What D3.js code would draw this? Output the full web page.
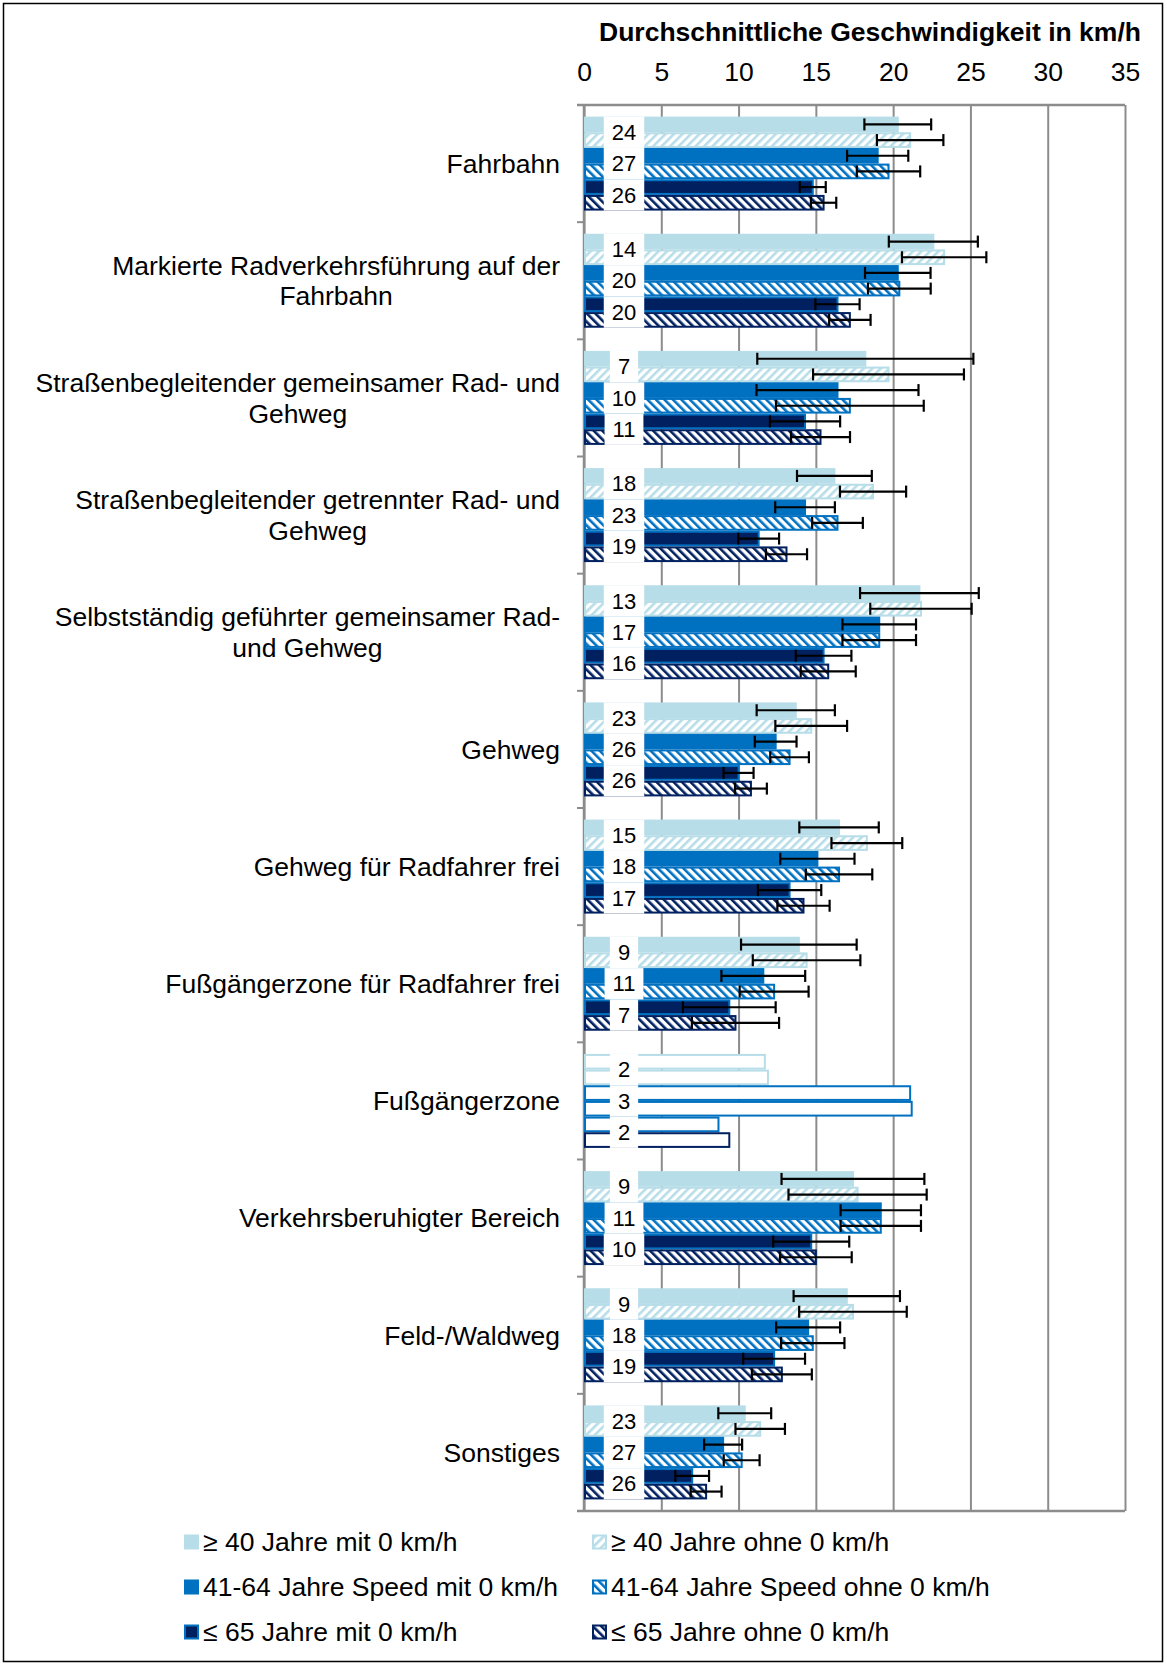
<!DOCTYPE html>
<html>
<head>
<meta charset="utf-8">
<script src="https://cdn.jsdelivr.net/npm/d3@7"></script>
<style>
  body { margin: 0; background: #fff; }
  svg text { font-family: "Liberation Sans", Arial, sans-serif; fill: #000; }
</style>
</head>
<body>
<svg id="canvas"></svg>
<script>
// Kategorien (Zeilenumbruch mit \n)
let categories = [
    "Fahrbahn",
    "Markierte Radverkehrsführung auf der\nFahrbahn",
    "Straßenbegleitender gemeinsamer Rad- und\nGehweg",
    "Straßenbegleitender getrennter Rad- und\nGehweg",
    "Selbstständig geführter gemeinsamer Rad-\nund Gehweg",
    "Gehweg",
    "Gehweg für Radfahrer frei",
    "Fußgängerzone für Radfahrer frei",
    "Fußgängerzone",
    "Verkehrsberuhigter Bereich",
    "Feld-/Waldweg",
    "Sonstiges"
];

let seriesNames = [
    "≥ 40 Jahre mit 0 km/h",
    "≥ 40 Jahre ohne 0 km/h",
    "41-64 Jahre Speed mit 0 km/h",
    "41-64 Jahre Speed ohne 0 km/h",
    "≤ 65 Jahre mit 0 km/h",
    "≤ 65 Jahre ohne 0 km/h"
];

// Mittelwerte km/h
let lightMit  = [20.3, 22.6, 18.2, 16.2, 21.7, 13.7, 16.5, 13.9, 11.7, 17.4, 17.0, 10.4];
let lightOhne = [21.1, 23.3, 19.7, 18.7, 21.8, 14.7, 18.3, 14.4, 11.9, 17.7, 17.4, 11.4];
let midMit    = [19.0, 20.3, 16.4, 14.3, 19.1, 12.4, 15.1, 11.6, 21.1, 19.2, 14.5, 9.0];
let midOhne   = [19.7, 20.4, 17.2, 16.4, 19.1, 13.3, 16.5, 12.3, 21.2, 19.2, 14.8, 10.2];
let darkMit   = [14.8, 16.4, 14.3, 11.3, 15.5, 10.0, 13.3, 9.4, 8.7, 14.7, 12.3, 7.0];
let darkOhne  = [15.5, 17.2, 15.3, 13.1, 15.8, 10.8, 14.2, 9.8, 9.4, 15.0, 12.8, 7.9];

// Fehlerbalken (+/-), Fußgängerzone ohne
let lightMitErr  = [2.16, 2.88, 6.99, 2.42, 3.84, 2.53, 2.57, 3.74, null, 4.62, 3.44, 1.71];
let lightOhneErr = [2.15, 2.73, 4.88, 2.14, 3.28, 2.32, 2.29, 3.48, null, 4.47, 3.48, 1.60];
let midMitErr    = [1.98, 2.12, 5.24, 1.93, 2.38, 1.35, 2.40, 2.71, null, 2.60, 2.07, 1.23];
let midOhneErr   = [2.05, 2.03, 4.78, 1.64, 2.38, 1.25, 2.15, 2.23, null, 2.60, 2.05, 1.16];
let darkMitErr   = [0.84, 1.43, 2.27, 1.32, 1.80, 0.97, 2.05, 3.00, null, 2.46, 2.00, 1.09];
let darkOhneErr  = [0.82, 1.34, 1.91, 1.33, 1.78, 1.03, 1.69, 2.82, null, 2.32, 1.94, 1.00];

// Anzahl (n) je Altersgruppe
let countYoung = [24, 14, 7, 18, 13, 23, 15, 9, 2, 9, 9, 23];
let countMid   = [27, 20, 10, 23, 17, 26, 18, 11, 3, 11, 18, 27];
let countOld   = [26, 20, 11, 19, 16, 26, 17, 7, 2, 10, 19, 26];

let xTicks = [0, 5, 10, 15, 20, 25, 30, 35];

let title = "Durchschnittliche Geschwindigkeit in km/h";
let outlineOnly = "Fußgängerzone";

let light = "#b7dde8";
let mid = "#0070c0";
let dark = "#002060";

let width = 1167;
let height = 1665;
let plotLeft = 584, plotRight = 1125, plotTop = 105, plotBottom = 1511;
let fontSize = 26.5;
let labelSize = 22;

let series = [
    {name: seriesNames[0], values: lightMit,  err: lightMitErr,  fill: light, stroke: light},
    {name: seriesNames[1], values: lightOhne, err: lightOhneErr, fill: "url(#hatchLight)", stroke: light},
    {name: seriesNames[2], values: midMit,    err: midMitErr,    fill: mid, stroke: mid},
    {name: seriesNames[3], values: midOhne,   err: midOhneErr,   fill: "url(#hatchMid)", stroke: mid},
    {name: seriesNames[4], values: darkMit,   err: darkMitErr,   fill: dark, stroke: mid},
    {name: seriesNames[5], values: darkOhne,  err: darkOhneErr,  fill: "url(#hatchDark)", stroke: dark}
];
let counts = [countYoung, countMid, countOld];

let canvas = d3.select("#canvas")
canvas.attr("width", width)
canvas.attr("height", height)

let xScale = d3.scaleLinear().domain([0, 35]).range([plotLeft, plotRight])
let y0 = d3.scaleBand().domain(d3.range(categories.length)).range([plotTop, plotBottom])
let y1 = d3.scaleBand().domain(d3.range(series.length))
            .range([0, y0.bandwidth()])
            .paddingInner(0)
            .paddingOuter(0.74)

let makePatterns = () => {
    let defs = canvas.append("defs")
    let pats = [["hatchLight", light, 45], ["hatchMid", mid, -45], ["hatchDark", dark, -45]]
    pats.forEach(p => {
        let pat = defs.append("pattern")
            .attr("id", p[0])
            .attr("patternUnits", "userSpaceOnUse")
            .attr("width", 6)
            .attr("height", 6)
            .attr("patternTransform", "rotate(" + p[2] + ")")
        pat.append("rect").attr("width", 6).attr("height", 6).attr("fill", "#fff")
        pat.append("rect").attr("width", 2.6).attr("height", 6).attr("fill", p[1])
    })
}

let drawFrame = () => {
    canvas.append("rect")
          .attr("x", 3.5).attr("y", 3.5)
          .attr("width", 1159).attr("height", 1658)
          .attr("fill", "none")
          .attr("stroke", "#000")
          .attr("stroke-width", 1.5)

    canvas.append("text")
          .attr("x", 870)
          .attr("y", 41)
          .attr("text-anchor", "middle")
          .style("font-size", fontSize + "px")
          .style("font-weight", "bold")
          .text(title)
}

let drawAxes = () => {
    let xAxis = d3.axisTop(xScale)
                  .tickValues(xTicks)
                  .tickSize(-(plotBottom - plotTop))
                  .tickPadding(24)

    let g = canvas.append("g")
          .attr("transform", "translate(0," + plotTop + ")")
          .call(xAxis)
    g.select(".domain").remove()
    g.selectAll(".tick line").attr("stroke", "#8c8c8c").attr("stroke-width", 2)
    g.selectAll(".tick text")
     .attr("fill", "#000")
     .style("font-size", fontSize + "px")
     .style("font-family", "'Liberation Sans', Arial, sans-serif")

    // Rahmenlinien oben / unten / links
    canvas.append("line").attr("x1", plotLeft - 7).attr("x2", plotRight).attr("y1", plotTop).attr("y2", plotTop)
          .attr("stroke", "#8c8c8c").attr("stroke-width", 2.5)
    canvas.append("line").attr("x1", plotLeft - 7).attr("x2", plotRight).attr("y1", plotBottom).attr("y2", plotBottom)
          .attr("stroke", "#8c8c8c").attr("stroke-width", 2.5)
    canvas.append("line").attr("x1", plotLeft).attr("x2", plotLeft).attr("y1", plotTop).attr("y2", plotBottom)
          .attr("stroke", "#8c8c8c").attr("stroke-width", 2.5)

    // Kategorie-Teilstriche
    canvas.selectAll(".cattick")
          .data(d3.range(categories.length + 1))
          .enter()
          .append("line")
          .attr("class", "cattick")
          .attr("x1", plotLeft - 7).attr("x2", plotLeft)
          .attr("y1", i => plotTop + i * y0.step())
          .attr("y2", i => plotTop + i * y0.step())
          .attr("stroke", "#8c8c8c")
          .attr("stroke-width", 2)

    // Kategorie-Beschriftungen
    let labels = canvas.selectAll(".catlabel")
          .data(categories)
          .enter()
          .append("text")
          .attr("class", "catlabel")
          .attr("text-anchor", "middle")
          .style("font-size", fontSize + "px")

    labels.each(function(d, i) {
        let lines = d.split("\n")
        let t = d3.select(this)
        let cy = y0(i) + y0.bandwidth() / 2
        let lh = 30.8
        lines.forEach((ln, k) => {
            t.append("tspan")
             .attr("y", cy + (k - (lines.length - 1) / 2) * lh + fontSize * 0.35)
             .text(ln)
        })
        let maxW = 0
        t.selectAll("tspan").each(function() {
            maxW = Math.max(maxW, this.getComputedTextLength())
        })
        t.selectAll("tspan").attr("x", 560 - maxW / 2)
    })
}

let drawBars = () => {
    series.forEach((s, si) => {
        canvas.selectAll(".bar" + si)
              .data(s.values)
              .enter()
              .append("rect")
              .attr("class", "bar" + si)
              .attr("x", xScale(0) + 1)
              .attr("y", (d, i) => y0(i) + y1(si) + 1)
              .attr("width", d => xScale(d) - xScale(0) - 1)
              .attr("height", y1.bandwidth() - 2)
              .attr("fill", (d, i) => categories[i] === outlineOnly ? "#fff" : s.fill)
              .attr("stroke", s.stroke)
              .attr("stroke-width", 2)
    })
}

let drawCountLabels = () => {
    counts.forEach((arr, gi) => {
        arr.forEach((n, i) => {
            let yTop = y0(i) + y1(gi * 2)
            let h = y1.bandwidth() * 2
            let g = canvas.append("g")
            let box = g.append("rect").attr("fill", "#fff")
            let t = g.append("text")
                     .attr("x", 624)
                     .attr("y", yTop + h / 2 + labelSize * 0.35)
                     .attr("text-anchor", "middle")
                     .style("font-size", labelSize + "px")
                     .text(n)
            let w = t.node().getComputedTextLength() + 16
            box.attr("x", 624 - w / 2).attr("y", yTop).attr("width", w).attr("height", h)
        })
    })
}

let drawErrors = () => {
    series.forEach((s, si) => {
        s.values.forEach((v, i) => {
            let e = s.err[i]
            if (e == null) return
            let cy = y0(i) + y1(si) + y1.bandwidth() / 2
            let x1 = xScale(v - e), x2 = xScale(v + e)
            let g = canvas.append("g").attr("stroke", "#000").attr("stroke-width", 2.2)
            g.append("line").attr("x1", x1).attr("x2", x2).attr("y1", cy).attr("y2", cy)
            g.append("line").attr("x1", x1).attr("x2", x1).attr("y1", cy - 6).attr("y2", cy + 6)
            g.append("line").attr("x1", x2).attr("x2", x2).attr("y1", cy - 6).attr("y2", cy + 6)
        })
    })
}

let drawLegend = () => {
    let colX = [184, 592]
    let rowY = [1542, 1587, 1632]
    series.forEach((s, si) => {
        let cx = colX[si % 2]
        let cy = rowY[Math.floor(si / 2)]
        canvas.append("rect")
              .attr("x", cx + 1).attr("y", cy - 6.5)
              .attr("width", 13).attr("height", 13)
              .attr("fill", s.fill)
              .attr("stroke", s.stroke)
              .attr("stroke-width", 2)
        canvas.append("text")
              .attr("x", cx + 19)
              .attr("y", cy + fontSize * 0.35)
              .style("font-size", fontSize + "px")
              .text(s.name)
    })
}

makePatterns();
drawFrame();
drawAxes();
drawBars();
drawCountLabels();
drawErrors();
drawLegend();
</script>
</body>
</html>
